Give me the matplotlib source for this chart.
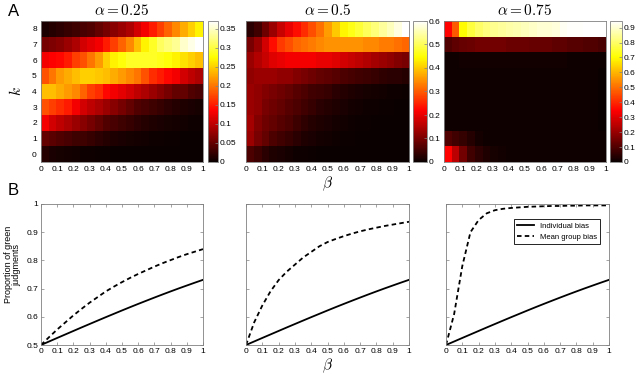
import numpy as np
import matplotlib
matplotlib.use("Agg")
import matplotlib.pyplot as plt

plt.rcParams['font.family'] = ['Liberation Sans', 'DejaVu Sans']
plt.rcParams['mathtext.fontset'] = 'cm'

# beta grid and k values
beta = [0.0, 0.05, 0.1, 0.15, 0.2, 0.25, 0.3, 0.35, 0.4, 0.45, 0.5,
        0.55, 0.6, 0.65, 0.7, 0.75, 0.8, 0.85, 0.9, 0.95, 1.0]
k_vals = [0, 1, 2, 3, 4, 5, 6, 7, 8]
alphas = ["0.25", "0.5", "0.75"]

# heatmap values, rows k=0..8, columns beta
heat_a25 = [
    [0.015, 0.01, 0.008, 0.006, 0.005, 0.004, 0.003, 0.002, 0.002, 0.001, 0.001, 0.001, 0, 0, 0, 0, 0, 0, 0, 0, 0],
    [0.05, 0.045, 0.04, 0.035, 0.03, 0.03, 0.025, 0.02, 0.015, 0.012, 0.01, 0.008, 0.006, 0.005, 0.004, 0.003, 0.002, 0.002, 0.001, 0.001, 0.001],
    [0.13, 0.11, 0.1, 0.09, 0.08, 0.07, 0.06, 0.05, 0.04, 0.035, 0.03, 0.025, 0.02, 0.015, 0.012, 0.01, 0.008, 0.006, 0.005, 0.004, 0.003],
    [0.18, 0.17, 0.16, 0.15, 0.13, 0.11, 0.1, 0.09, 0.08, 0.07, 0.06, 0.05, 0.04, 0.035, 0.03, 0.025, 0.02, 0.015, 0.012, 0.01, 0.008],
    [0.24, 0.24, 0.23, 0.22, 0.21, 0.19, 0.17, 0.16, 0.14, 0.13, 0.12, 0.11, 0.1, 0.09, 0.08, 0.07, 0.06, 0.05, 0.05, 0.04, 0.035],
    [0.18, 0.2, 0.22, 0.23, 0.24, 0.25, 0.25, 0.245, 0.24, 0.23, 0.22, 0.21, 0.2, 0.18, 0.16, 0.15, 0.14, 0.13, 0.11, 0.10, 0.09],
    [0.13, 0.135, 0.14, 0.15, 0.17, 0.18, 0.2, 0.22, 0.25, 0.27, 0.28, 0.29, 0.29, 0.29, 0.29, 0.285, 0.28, 0.27, 0.26, 0.25, 0.24],
    [0.06, 0.065, 0.07, 0.08, 0.09, 0.11, 0.12, 0.13, 0.15, 0.17, 0.19, 0.21, 0.24, 0.27, 0.29, 0.31, 0.32, 0.33, 0.35, 0.36, 0.37],
    [0.01, 0.015, 0.02, 0.025, 0.03, 0.035, 0.04, 0.05, 0.06, 0.07, 0.08, 0.09, 0.11, 0.13, 0.15, 0.17, 0.19, 0.21, 0.23, 0.25, 0.27],
]
heat_a50 = [
    [0.06, 0.045, 0.03, 0.02, 0.015, 0.01, 0.007, 0.005, 0.003, 0.002, 0.001, 0.001, 0, 0, 0, 0, 0, 0, 0, 0, 0],
    [0.13, 0.1, 0.08, 0.06, 0.05, 0.04, 0.03, 0.02, 0.015, 0.01, 0.008, 0.006, 0.004, 0.003, 0.002, 0.001, 0.001, 0.001, 0, 0, 0],
    [0.14, 0.11, 0.09, 0.08, 0.07, 0.06, 0.045, 0.035, 0.025, 0.02, 0.015, 0.01, 0.008, 0.006, 0.004, 0.003, 0.002, 0.002, 0.001, 0.001, 0.001],
    [0.13, 0.12, 0.1, 0.09, 0.08, 0.07, 0.06, 0.05, 0.04, 0.03, 0.025, 0.02, 0.015, 0.01, 0.008, 0.006, 0.005, 0.004, 0.003, 0.002, 0.002],
    [0.13, 0.12, 0.11, 0.1, 0.09, 0.08, 0.07, 0.06, 0.05, 0.045, 0.04, 0.03, 0.025, 0.02, 0.015, 0.012, 0.01, 0.008, 0.006, 0.005, 0.004],
    [0.12, 0.13, 0.13, 0.13, 0.12, 0.12, 0.11, 0.1, 0.09, 0.08, 0.075, 0.07, 0.06, 0.055, 0.05, 0.045, 0.04, 0.035, 0.03, 0.03, 0.025],
    [0.13, 0.15, 0.17, 0.19, 0.2, 0.21, 0.21, 0.21, 0.21, 0.2, 0.2, 0.19, 0.18, 0.17, 0.16, 0.15, 0.14, 0.13, 0.12, 0.11, 0.1],
    [0.1, 0.13, 0.18, 0.23, 0.27, 0.29, 0.31, 0.32, 0.33, 0.34, 0.35, 0.35, 0.35, 0.35, 0.35, 0.34, 0.34, 0.33, 0.33, 0.32, 0.31],
    [0.03, 0.05, 0.09, 0.13, 0.17, 0.2, 0.23, 0.26, 0.29, 0.32, 0.36, 0.4, 0.44, 0.46, 0.48, 0.5, 0.52, 0.54, 0.56, 0.58, 0.6],
]
heat_a75 = [
    [0.35, 0.25, 0.15, 0.08, 0.05, 0.03, 0.02, 0.012, 0.01, 0.01, 0.01, 0.01, 0.01, 0.01, 0.01, 0.01, 0.01, 0.01, 0.01, 0.01, 0.01],
    [0.1, 0.08, 0.06, 0.04, 0.015, 0.01, 0.01, 0.01, 0.01, 0.01, 0.01, 0.01, 0.01, 0.01, 0.01, 0.01, 0.01, 0.01, 0.01, 0.01, 0.01],
    [0.01, 0.01, 0.01, 0.01, 0.01, 0.01, 0.01, 0.01, 0.01, 0.01, 0.01, 0.01, 0.01, 0.01, 0.01, 0.01, 0.01, 0.01, 0.01, 0.01, 0.0],
    [0.01, 0.01, 0.01, 0.01, 0.01, 0.01, 0.01, 0.01, 0.01, 0.01, 0.01, 0.01, 0.01, 0.01, 0.01, 0.01, 0.01, 0.01, 0.01, 0.01, 0.0],
    [0.01, 0.01, 0.01, 0.01, 0.01, 0.01, 0.01, 0.01, 0.01, 0.01, 0.01, 0.01, 0.01, 0.01, 0.01, 0.01, 0.01, 0.01, 0.01, 0.01, 0.0],
    [0.01, 0.01, 0.01, 0.01, 0.01, 0.01, 0.01, 0.01, 0.01, 0.01, 0.01, 0.01, 0.01, 0.01, 0.01, 0.01, 0.01, 0.01, 0.01, 0.01, 0.0],
    [0.01, 0.01, 0.012, 0.012, 0.012, 0.012, 0.012, 0.012, 0.012, 0.012, 0.012, 0.012, 0.012, 0.012, 0.012, 0.012, 0.01, 0.01, 0.01, 0.01, 0.01],
    [0.1, 0.12, 0.13, 0.14, 0.15, 0.15, 0.15, 0.15, 0.14, 0.14, 0.14, 0.13, 0.13, 0.13, 0.12, 0.12, 0.11, 0.11, 0.1, 0.1, 0.09],
    [0.35, 0.47, 0.7, 0.76, 0.8, 0.82, 0.84, 0.85, 0.86, 0.87, 0.88, 0.89, 0.9, 0.9, 0.91, 0.93, 0.94, 0.94, 0.944, 0.944, 0.944],
]
heats = [heat_a25, heat_a50, heat_a75]
cbar_ticks = [[0, 0.05, 0.1, 0.15, 0.2, 0.25, 0.3, 0.35],
              [0, 0.1, 0.2, 0.3, 0.4, 0.5, 0.6],
              [0, 0.1, 0.2, 0.3, 0.4, 0.5, 0.6, 0.7, 0.8, 0.9]]

# proportion of green judgments
individual_bias = [0.5, 0.5125, 0.525, 0.5374, 0.5498, 0.5622, 0.5744, 0.5866, 0.5987, 0.6106, 0.6225,
                   0.6342, 0.6457, 0.657, 0.6682, 0.6792, 0.69, 0.7006, 0.7109, 0.7211, 0.7311]
group_a25 = [0.5, 0.528, 0.555, 0.58, 0.605, 0.628, 0.65, 0.67, 0.69, 0.707, 0.723,
             0.738, 0.752, 0.765, 0.778, 0.79, 0.801, 0.812, 0.822, 0.831, 0.84]
group_a50 = [0.5, 0.58, 0.64, 0.69, 0.73, 0.76, 0.785, 0.81, 0.83, 0.85, 0.865,
             0.876, 0.886, 0.895, 0.903, 0.91, 0.916, 0.922, 0.927, 0.932, 0.937]
group_a75 = [0.5, 0.61, 0.78, 0.9, 0.943, 0.967, 0.978, 0.983, 0.986, 0.988, 0.99,
             0.991, 0.992, 0.993, 0.993, 0.994, 0.994, 0.995, 0.995, 0.995, 0.995]
groups = [group_a25, group_a50, group_a75]

xticks = [0, 0.1, 0.2, 0.3, 0.4, 0.5, 0.6, 0.7, 0.8, 0.9, 1]
xticklabels = ["0", "0.1", "0.2", "0.3", "0.4", "0.5", "0.6", "0.7", "0.8", "0.9", "1"]
yticks = [0.5, 0.6, 0.7, 0.8, 0.9, 1]
yticklabels = ["0.5", "0.6", "0.7", "0.8", "0.9", "1"]

W, H = 640, 375
fig = plt.figure(figsize=(W / 100, H / 100), dpi=100)


def rect(x0, y0, x1, y1):
    return [x0 / W, 1 - y1 / H, (x1 - x0) / W, (y1 - y0) / H]


edge = '#808080'
tsize = 6
heat_x = [(41, 203), (246, 409), (444, 606)]
cbar_x = [(208, 218), (413, 427), (610, 622)]
line_x = [(41, 203), (246, 409), (446, 609)]

for i in range(3):
    ax = fig.add_axes(rect(heat_x[i][0], 21, heat_x[i][1], 162))
    data = np.array(heats[i])
    im = ax.imshow(data, cmap='hot', origin='lower', aspect='auto',
                   extent=[0, 1, -0.5, 8.5], interpolation='nearest')
    ax.set_xticks(xticks)
    ax.set_xticklabels(xticklabels)
    ax.set_yticks(k_vals)
    if i == 0:
        ax.set_yticklabels([str(k) for k in k_vals])
        ax.set_ylabel(r'$k$', fontsize=11, labelpad=6, rotation=90)
    else:
        ax.set_yticklabels([])
    if i == 1:
        ax.set_xlabel(r'$\beta$', fontsize=11, labelpad=1)
    ax.tick_params(labelsize=tsize, length=0, pad=3)
    for s in ax.spines.values():
        s.set_color(edge)
        s.set_linewidth(0.6)
    ax.set_title(r'$\alpha = %s$' % alphas[i], fontsize=11, pad=4)

    cax = fig.add_axes(rect(cbar_x[i][0], 21, cbar_x[i][1], 162))
    cb = fig.colorbar(im, cax=cax)
    cb.set_ticks(cbar_ticks[i])
    cb.set_ticklabels([('%g' % t) for t in cbar_ticks[i]])
    cax.tick_params(labelsize=tsize, length=2, width=0.5, direction='in', pad=1.5, color=edge)
    cb.outline.set_edgecolor(edge)
    cb.outline.set_linewidth(0.6)

for i in range(3):
    ax = fig.add_axes(rect(line_x[i][0], 204, line_x[i][1], 345))
    ax.plot(beta, individual_bias, color='black', lw=1.3, label='Individual bias')
    ax.plot(beta, groups[i], color='black', lw=1.3, linestyle=(0, (2.5, 1.8)), label='Mean group bias')
    ax.set_xlim(0, 1)
    ax.set_ylim(0.5, 1)
    ax.set_xticks(xticks)
    ax.set_xticklabels(xticklabels)
    ax.set_yticks(yticks)
    if i == 0:
        ax.set_yticklabels(yticklabels)
        ax.set_ylabel('Proportion of green\njudgments', fontsize=6.5, linespacing=1.0)
        ax.yaxis.set_label_coords(-0.12, 0.57)
    else:
        ax.set_yticklabels([])
    if i == 1:
        ax.set_xlabel(r'$\beta$', fontsize=11, labelpad=1)
    if i == 2:
        ax.legend(loc='upper right', fontsize=5.5, frameon=True, fancybox=False,
                  edgecolor='black', handlelength=2.2, borderpad=0.4,
                  bbox_to_anchor=(0.97, 0.92), framealpha=1).get_frame().set_linewidth(0.6)
    ax.tick_params(labelsize=tsize, length=2, width=0.5, direction='in', pad=2, color=edge,
                   top=True, right=True)
    for s in ax.spines.values():
        s.set_color(edge)
        s.set_linewidth(0.6)

fig.text(8 / W, 1 - 12 / H, 'A', fontsize=12, ha='left', va='center')
fig.text(8 / W, 1 - 190 / H, 'B', fontsize=12, ha='left', va='center')

fig.savefig('out.png', dpi=100)
